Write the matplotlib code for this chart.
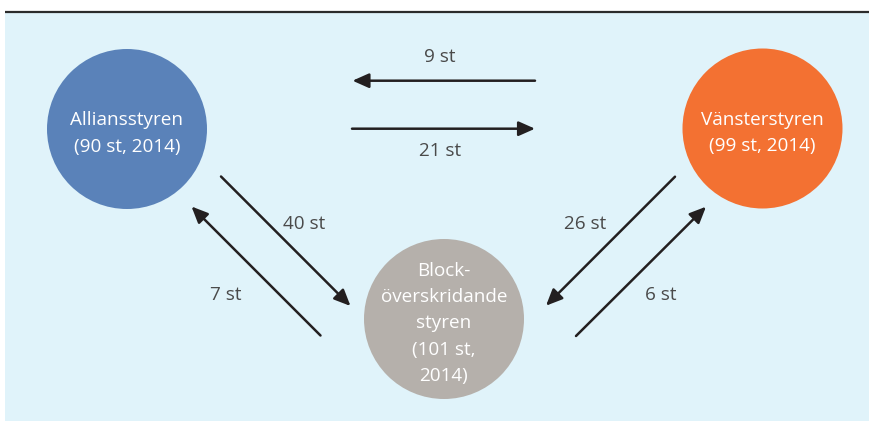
import matplotlib
matplotlib.use("Agg")
import matplotlib.pyplot as plt
from matplotlib.patches import Circle, Rectangle

plt.rcParams['font.family'] = ['Open Sans', 'DejaVu Sans']

# --- data ---
nodes = ["Alliansstyren", "Vänsterstyren", "Block-\növerskridande\nstyren"]
node_counts = [90, 99, 101]
node_year = 2014
# flows: (from, to, count)
flow_from = [0, 1, 0, 2, 1, 2]
flow_to = [1, 0, 2, 0, 2, 1]
flow_vals = [21, 9, 40, 7, 26, 6]

# --- layout (pixels) ---
W, H = 870, 421
centers = [(127, 129), (762.5, 128.5), (444, 319)]
radius = 80
node_colors = ["#5a82b9", "#f37132", "#b5b0ab"]
bg = "#e0f3fa"
arrow_color = "#231f20"
text_color = "#4a4a4a"

# arrow geometry per flow: (start, end, label position)
arrow_geom = [
    ((352, 128.7), (535, 128.7), (440.5, 151.5)),
    ((535, 80.7), (352.5, 80.7), (440, 56.5)),
    ((221, 176.5), (350.5, 306), (304.5, 224)),
    ((320.5, 335.5), (191.5, 206.5), (226, 295)),
    ((675, 176.7), (546, 305.7), (585.5, 224)),
    ((576, 336), (706, 206.7), (660.5, 295.5)),
]

fig = plt.figure(figsize=(W / 100, H / 100), dpi=100)
ax = fig.add_axes([0, 0, 1, 1])
ax.set_xlim(0, W)
ax.set_ylim(H, 0)
ax.axis("off")

ax.add_patch(Rectangle((5.5, 12.3), W - 5.5, H - 12.3 - 0.5, facecolor=bg, edgecolor="none"))
ax.plot([5.5, W], [11.5, 11.5], color="#2b2b2b", lw=1.6, solid_capstyle="butt")

labels = []
for i, name in enumerate(nodes):
    if i < 2:
        labels.append(f"{name}\n({node_counts[i]} st, {node_year})")
    else:
        labels.append(f"{name}\n({node_counts[i]} st,\n{node_year})")

for (cx, cy), col, lab in zip(centers, node_colors, labels):
    ax.add_patch(Circle((cx, cy), radius, facecolor=col, edgecolor="none"))
    ax.text(cx, cy + 4.5, lab, ha="center", va="center", color="white",
            fontsize=13.6, linespacing=1.6)

for (s, e, lp), v in zip(arrow_geom, flow_vals):
    ax.annotate("", xy=e, xytext=s,
                arrowprops=dict(arrowstyle="-|>,head_length=0.9,head_width=0.4",
                                color=arrow_color, lw=1.8, shrinkA=0, shrinkB=0,
                                mutation_scale=11))
    ax.text(lp[0], lp[1], f"{v} st", ha="center", va="center",
            color=text_color, fontsize=13.6)

fig.savefig("out.png", dpi=100)
